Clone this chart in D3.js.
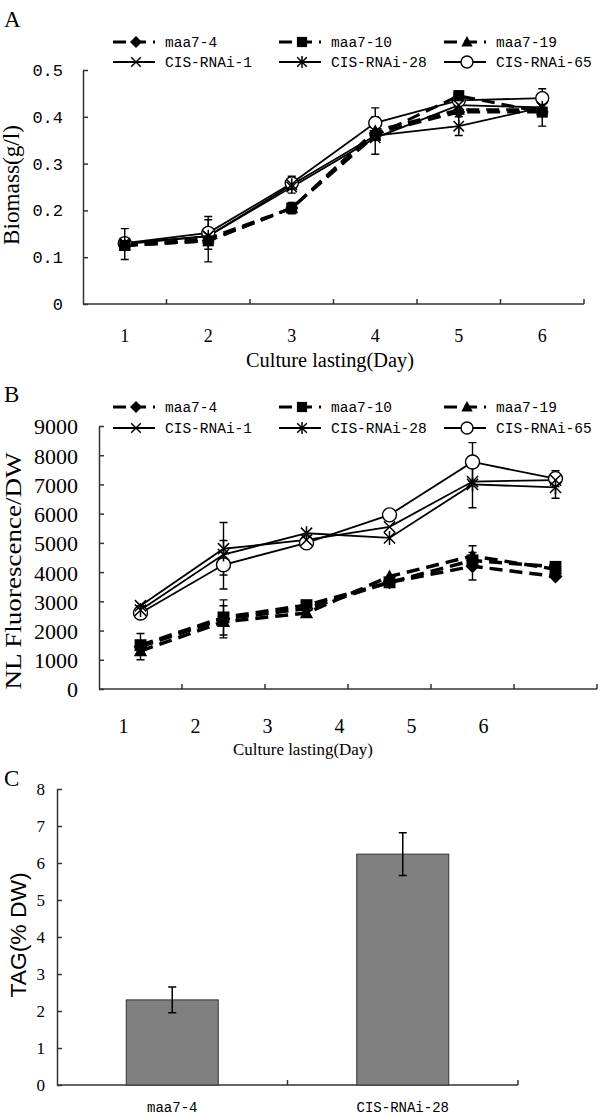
<!DOCTYPE html>
<html>
<head>
<meta charset="utf-8">
<script src="https://cdn.jsdelivr.net/npm/d3@7"></script>
<style>
body { margin: 0; background: #fff; }
svg { display: block; }
</style>
</head>
<body>
<svg id="chart" width="600" height="1116"></svg>
<script>
var days = [1, 2, 3, 4, 5, 6];
var lineNames = ["maa7-4", "maa7-10", "maa7-19", "CIS-RNAi-1", "CIS-RNAi-28", "CIS-RNAi-65"];
var markerTypes = ["diamond", "square", "triangle", "x", "asterisk", "circle"];

// panel A: biomass (g/l)
var biomassTicks = [0, 0.1, 0.2, 0.3, 0.4, 0.5];
var bioMaa4 = [0.125, 0.135, 0.205, 0.365, 0.41, 0.41];
var bioMaa10 = [0.125, 0.135, 0.205, 0.36, 0.445, 0.41];
var bioMaa19 = [0.125, 0.14, 0.205, 0.37, 0.415, 0.415];
var bioCis1 = [0.128, 0.145, 0.25, 0.355, 0.425, 0.42];
var bioCis28 = [0.13, 0.145, 0.255, 0.36, 0.38, 0.42];
var bioCis65 = [0.13, 0.152, 0.258, 0.387, 0.435, 0.44];
var bioMaa4Err = [0, 0, 0, 0, 0, 0.03];
var bioMaa10Err = [0, 0.045, 0.012, 0, 0.01, 0];
var bioMaa19Err = [0, 0, 0, 0, 0, 0];
var bioCis1Err = [0.033, 0, 0, 0, 0, 0];
var bioCis28Err = [0, 0, 0.018, 0.04, 0.02, 0];
var bioCis65Err = [0, 0.035, 0, 0.032, 0, 0.02];

// panel B: NL fluorescence / DW
var nlTicks = [0, 1000, 2000, 3000, 4000, 5000, 6000, 7000, 8000, 9000];
var nlMaa4 = [1450, 2400, 2750, 3650, 4200, 3850];
var nlMaa10 = [1500, 2450, 2870, 3650, 4400, 4180];
var nlMaa19 = [1300, 2300, 2600, 3850, 4550, 4100];
var nlCis1 = [2850, 4800, 5100, 5550, 7100, 7150];
var nlCis28 = [2700, 4600, 5330, 5170, 7000, 6900];
var nlCis65 = [2600, 4250, 5000, 5960, 7770, 7200];
var nlMaa4Err = [450, 0, 0, 0, 470, 0];
var nlMaa10Err = [0, 600, 0, 0, 0, 0];
var nlMaa19Err = [0, 550, 0, 0, 350, 0];
var nlCis1Err = [0, 900, 0, 0, 0, 0];
var nlCis28Err = [150, 0, 0, 0, 800, 370];
var nlCis65Err = [0, 830, 0, 0, 660, 270];

// panel C: TAG (% DW)
var tagNames = ["maa7-4", "CIS-RNAi-28"];
var tagValues = [2.3, 6.24];
var tagErrs = [0.35, 0.58];
var tagTicks = [0, 1, 2, 3, 4, 5, 6, 7, 8];

var serif = '"Liberation Serif","Times New Roman",serif';
var mono = '"Liberation Mono","Courier New",monospace';
var sans = '"Liberation Sans",Arial,sans-serif';
var axisColor = "#333";

var svg = d3.select("#chart");

function markerPath(type, r) {
  if (type == "diamond") return "M0," + (-r) + "L" + r + ",0L0," + r + "L" + (-r) + ",0Z";
  if (type == "square") { var s = r * 0.85; return "M" + (-s) + "," + (-s) + "H" + s + "V" + s + "H" + (-s) + "Z"; }
  if (type == "triangle") return "M0," + (-r) + "L" + (r * 0.95) + "," + (r * 0.75) + "L" + (-r * 0.95) + "," + (r * 0.75) + "Z";
  if (type == "circle") return "M" + r + ",0A" + r + "," + r + " 0 1 1 " + (-r) + ",0A" + r + "," + r + " 0 1 1 " + r + ",0Z";
  var k = r * 0.8;
  var p = "M" + (-k) + "," + (-k) + "L" + k + "," + k + "M" + k + "," + (-k) + "L" + (-k) + "," + k;
  if (type == "asterisk") p += "M0," + (-r) + "V" + r;
  return p;
}

function styleMarker(sel, type) {
  if (type == "circle") sel.attr("fill", "#fff").attr("stroke", "#000").attr("stroke-width", 1.4);
  else if (type == "x" || type == "asterisk") sel.attr("fill", "none").attr("stroke", "#000").attr("stroke-width", 1.5);
  else sel.attr("fill", "#000").attr("stroke", "none");
}

function drawLinePanel(cfg) {
  var g = svg.append("g");
  var x = d3.scaleBand().domain(days).range([cfg.left, cfg.right]);
  var y = d3.scaleLinear().domain([0, d3.max(cfg.ticks)]).range([cfg.bottom, cfg.top]);
  var cx = function(i) { return x(days[i]) + x.bandwidth() / 2; };

  // axes
  var yAxis = g.append("g").attr("transform", "translate(" + cfg.left + ",0)")
    .call(d3.axisLeft(y).tickValues(cfg.ticks).tickFormat(cfg.tickFormat)
      .tickSizeInner(-5).tickSizeOuter(0).tickPadding(cfg.yPad));
  yAxis.selectAll("path, line").attr("stroke", axisColor).attr("stroke-width", 1.5);
  yAxis.selectAll("text").attr("font-family", cfg.yFont).attr("font-size", cfg.yFontSize)
    .attr("fill", "#000").attr("dy", cfg.yDy);

  g.append("line").attr("x1", cfg.left).attr("x2", cfg.right)
    .attr("y1", cfg.bottom).attr("y2", cfg.bottom)
    .attr("stroke", axisColor).attr("stroke-width", 1.5);
  g.selectAll(".btick").data(days).enter().append("line")
    .attr("x1", function(d) { return x(d) + x.bandwidth(); })
    .attr("x2", function(d) { return x(d) + x.bandwidth(); })
    .attr("y1", cfg.bottom).attr("y2", cfg.bottom - 5)
    .attr("stroke", axisColor).attr("stroke-width", 1.5);

  var labelScale = cfg.labelRange ? d3.scalePoint().domain(days).range(cfg.labelRange) : x;
  var xAxis = g.append("g").attr("transform", "translate(0," + cfg.labelY + ")")
    .call(d3.axisBottom(labelScale).tickSize(0).tickPadding(0));
  xAxis.select(".domain").remove();
  xAxis.selectAll("text").attr("font-family", serif).attr("font-size", cfg.labelSize)
    .attr("fill", "#000").attr("dy", "0.32em");

  g.append("text").attr("x", cfg.titleX).attr("y", cfg.titleY)
    .attr("text-anchor", "middle").attr("font-family", serif).attr("font-size", cfg.titleSize)
    .attr("textLength", cfg.titleLen).attr("lengthAdjust", "spacingAndGlyphs")
    .text("Culture lasting(Day)");

  g.append("text").attr("transform", "translate(" + cfg.yTitleX + "," + cfg.yTitleY + ") rotate(-90)")
    .attr("text-anchor", "middle").attr("font-family", serif).attr("font-size", cfg.yTitleSize)
    .attr("dy", "0.35em")
    .attr("textLength", cfg.yTitleLen).attr("lengthAdjust", "spacingAndGlyphs")
    .text(cfg.yTitle);

  g.append("text").attr("x", 4).attr("y", cfg.letterY)
    .attr("font-family", serif).attr("font-size", 23).text(cfg.letter);

  var line = d3.line().x(function(d, i) { return cx(i); }).y(function(d) { return y(d); });

  cfg.series.forEach(function(s, k) {
    var dashed = k < 3;
    g.append("path").datum(s.values).attr("d", line)
      .attr("fill", "none").attr("stroke", "#000")
      .attr("stroke-width", dashed ? cfg.dashWidth : 1.8)
      .attr("stroke-dasharray", dashed ? "13,7" : null);
  });

  cfg.series.forEach(function(s) {
    s.values.forEach(function(v, i) {
      var e = s.errs[i];
      if (!e) return;
      var ex = cx(i);
      g.append("path")
        .attr("d", "M" + ex + "," + y(v - e) + "V" + y(v + e) +
          "M" + (ex - 4) + "," + y(v - e) + "h8M" + (ex - 4) + "," + y(v + e) + "h8")
        .attr("fill", "none").attr("stroke", "#000").attr("stroke-width", 1.4);
    });
  });

  cfg.series.slice().reverse().forEach(function(s) {
    var k = lineNames.indexOf(s.name);
    var type = markerTypes[k];
    g.selectAll(null).data(s.values).enter().append("path")
      .attr("transform", function(d, i) { return "translate(" + cx(i) + "," + y(d) + ")"; })
      .attr("d", markerPath(type, cfg.markerR))
      .call(styleMarker, type);
  });

  // legend
  var colX = [113, 279, 444];
  lineNames.forEach(function(name, k) {
    var lx = colX[k % 3], ly = cfg.legendY[Math.floor(k / 3)];
    var dashed = k < 3;
    g.append("line").attr("x1", lx).attr("x2", lx + 42).attr("y1", ly).attr("y2", ly)
      .attr("stroke", "#000").attr("stroke-width", dashed ? 3 : 2)
      .attr("stroke-dasharray", dashed ? "13,7" : null);
    g.append("path").attr("transform", "translate(" + (lx + 23) + "," + ly + ")")
      .attr("d", markerPath(markerTypes[k], 6)).call(styleMarker, markerTypes[k]);
    g.append("text").attr("x", lx + 52).attr("y", ly).attr("dy", "0.35em")
      .attr("font-family", mono).attr("font-size", 14.5).text(name);
  });
}

function seriesOf(vals, errs) {
  return lineNames.map(function(n, i) { return { name: n, values: vals[i], errs: errs[i] }; });
}

drawLinePanel({
  left: 83, right: 584, top: 70, bottom: 304,
  ticks: biomassTicks,
  tickFormat: function(d) { return d === 0 ? "0" : d.toFixed(1); },
  yPad: 20, yFont: mono, yFontSize: 17, yDy: "0.32em",
  labelY: 336, labelSize: 18,
  titleX: 330, titleY: 367, titleSize: 20, titleLen: 168,
  yTitle: "Biomass(g/l)", yTitleX: 11, yTitleY: 185, yTitleSize: 23, yTitleLen: 120,
  letter: "A", letterY: 27,
  legendY: [42, 62],
  markerR: 6.5, dashWidth: 3,
  series: seriesOf([bioMaa4, bioMaa10, bioMaa19, bioCis1, bioCis28, bioCis65],
    [bioMaa4Err, bioMaa10Err, bioMaa19Err, bioCis1Err, bioCis28Err, bioCis65Err])
});

drawLinePanel({
  left: 99, right: 597, top: 426, bottom: 689,
  ticks: nlTicks,
  tickFormat: d3.format("d"),
  yPad: 21, yFont: serif, yFontSize: 22, yDy: "0.36em",
  labelY: 727, labelSize: 20, labelRange: [123, 483],
  titleX: 303, titleY: 755, titleSize: 17, titleLen: 140,
  yTitle: "NL Fluorescence/DW", yTitleX: 13, yTitleY: 571, yTitleSize: 24, yTitleLen: 237,
  letter: "B", letterY: 402,
  legendY: [407, 428],
  markerR: 7, dashWidth: 3.5,
  series: seriesOf([nlMaa4, nlMaa10, nlMaa19, nlCis1, nlCis28, nlCis65],
    [nlMaa4Err, nlMaa10Err, nlMaa19Err, nlCis1Err, nlCis28Err, nlCis65Err])
});

// panel C: bar chart
(function() {
  var g = svg.append("g");
  var left = 57, right = 518, top = 789, bottom = 1085;
  var x = d3.scaleBand().domain(tagNames).range([left, right]);
  var y = d3.scaleLinear().domain([0, 8]).range([bottom, top]);
  var barW = 92;

  var yAxis = g.append("g").attr("transform", "translate(" + left + ",0)")
    .call(d3.axisLeft(y).tickValues(tagTicks).tickSizeInner(-5).tickSizeOuter(0).tickPadding(12));
  yAxis.selectAll("path, line").attr("stroke", axisColor).attr("stroke-width", 1.5);
  yAxis.selectAll("text").attr("font-family", serif).attr("font-size", 17).attr("fill", "#000");

  g.append("line").attr("x1", left).attr("x2", right).attr("y1", bottom).attr("y2", bottom)
    .attr("stroke", axisColor).attr("stroke-width", 1.5);
  g.selectAll(".ct").data(tagNames).enter().append("line")
    .attr("x1", function(d) { return x(d) + x.bandwidth(); })
    .attr("x2", function(d) { return x(d) + x.bandwidth(); })
    .attr("y1", bottom).attr("y2", bottom - 5)
    .attr("stroke", axisColor).attr("stroke-width", 1.5);

  var xAxis = g.append("g").attr("transform", "translate(0,1108)")
    .call(d3.axisBottom(x).tickSize(0).tickPadding(0));
  xAxis.select(".domain").remove();
  xAxis.selectAll("text").attr("font-family", mono).attr("font-size", 14).attr("fill", "#000").attr("dy", "0.32em");

  g.selectAll(".bar").data(tagValues).enter().append("rect")
    .attr("x", function(d, i) { return x(tagNames[i]) + x.bandwidth() / 2 - barW / 2; })
    .attr("y", function(d) { return y(d); })
    .attr("width", barW)
    .attr("height", function(d) { return bottom - y(d); })
    .attr("fill", "#808080").attr("stroke", "#333").attr("stroke-width", 1);

  g.selectAll(".err").data(tagValues).enter().append("path")
    .attr("d", function(d, i) {
      var cx = x(tagNames[i]) + x.bandwidth() / 2, e = tagErrs[i];
      return "M" + cx + "," + y(d - e) + "V" + y(d + e) +
        "M" + (cx - 4) + "," + y(d - e) + "h8M" + (cx - 4) + "," + y(d + e) + "h8";
    })
    .attr("fill", "none").attr("stroke", "#000").attr("stroke-width", 1.5);

  g.append("text").attr("transform", "translate(18,935) rotate(-90)")
    .attr("text-anchor", "middle").attr("dy", "0.35em")
    .attr("font-family", sans).attr("font-size", 22)
    .attr("textLength", 125).attr("lengthAdjust", "spacingAndGlyphs")
    .text("TAG(% DW)");

  g.append("text").attr("x", 4).attr("y", 786)
    .attr("font-family", serif).attr("font-size", 23).text("C");
})();
</script>
</body>
</html>
